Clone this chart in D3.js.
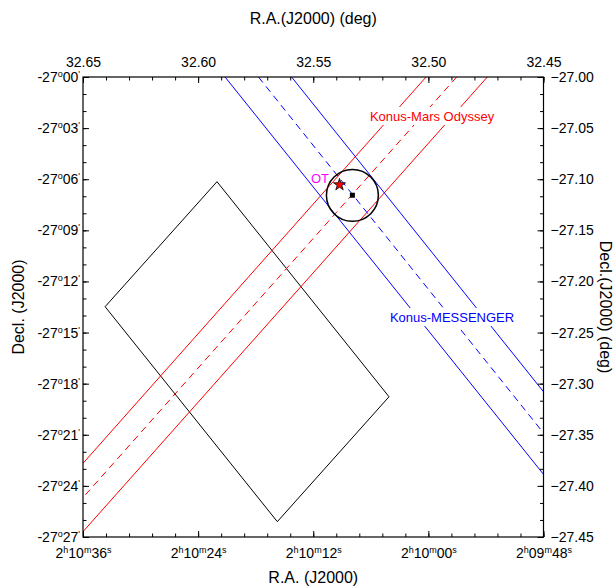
<!DOCTYPE html>
<html>
<head>
<meta charset="utf-8">
<script src="https://cdn.jsdelivr.net/npm/d3@7"></script>
<style>
  body { margin: 0; background: #fff; }
  text { font-family: "Liberation Sans", Arial, sans-serif; }
</style>
</head>
<body>
<div id="vis"></div>
<script>
// values, RA / Dec in degrees
const raTicks = [32.65, 32.60, 32.55, 32.50, 32.45];
const raHmsLabels = [["2", "10", "36"], ["2", "10", "24"], ["2", "10", "12"], ["2", "10", "00"], ["2", "09", "48"]];
const decTicks = [-27.00, -27.05, -27.10, -27.15, -27.20, -27.25, -27.30, -27.35, -27.40, -27.45];
const decMinLabels = ["00", "03", "06", "09", "12", "15", "18", "21", "24", "27"];

// Konus-Mars Odyssey annulus (edges + centre line)
const marsEdges = [
  [[32.5010, -27.0000], [32.6500, -27.3779]],
  [[32.4744, -27.0000], [32.6500, -27.4448]]
];
const marsCenter = [[32.4877, -27.0000], [32.6500, -27.4114]];

// Konus-MESSENGER annulus
const messEdges = [
  [[32.5883, -27.0000], [32.4500, -27.3887]],
  [[32.5594, -27.0000], [32.4500, -27.3079]]
];
const messCenter = [[32.5738, -27.0000], [32.4500, -27.3483]];

// field of view corners
const fieldCorners = [[32.5918, -27.1024], [32.6404, -27.2247], [32.5656, -27.4350], [32.5171, -27.3128]];

// error circle centre, radius (deg in Dec)
const circleCenter = [32.5330, -27.1158];
const circleRadius = 0.0254;
const otPos = [32.5386, -27.1054];

const labels = [
  { text: "Konus-Mars Odyssey", ra: 32.5254, dec: -27.0430, color: "#ff0000", box: true },
  { text: "Konus-MESSENGER", ra: 32.5167, dec: -27.2397, color: "#0000ff", box: true },
  { text: "OT", ra: 32.5510, dec: -27.1037, color: "#ff00ff", box: false }
];

let margin = { top: 77, left: 83, right: 70.5, bottom: 51 },
  width = 614 - margin.left - margin.right,
  height = 588 - margin.top - margin.bottom;

let svg = d3.select('#vis')
  .append('svg')
  .attr('width', 614)
  .attr('height', 588)
  .style('background-color', '#fff');

let g = svg.append('g').attr('transform', `translate(${margin.left},${margin.top})`);

let x = d3.scaleLinear().domain([32.65, 32.45]).range([0, width]);
let y = d3.scaleLinear().domain([-27.00, -27.45]).range([0, height]);

// rebuild a text node from [string, isSuperscript] parts
function setParts(node, parts) {
  let t = d3.select(node);
  t.text(null);
  let shift = 0;
  parts.forEach(([s, up]) => {
    let target = up ? -5 : 0;
    let ts = t.append('tspan').text(s);
    if (target !== shift) ts.attr('dy', target - shift);
    if (up) ts.attr('font-size', 9);
    shift = target;
  });
}

// clip
g.append('clipPath').attr('id', 'clip')
  .append('rect').attr('width', width).attr('height', height);

let plot = g.append('g').attr('clip-path', 'url(#clip)');
let line = d3.line().x(d => x(d[0])).y(d => y(d[1]));

// field of view
plot.append('path')
  .attr('d', line(fieldCorners.concat([fieldCorners[0]])))
  .attr('fill', 'none')
  .attr('stroke', '#000')
  .attr('stroke-width', 1);

// annuli
plot.selectAll('.mars').data(marsEdges).join('path')
  .attr('d', line).attr('fill', 'none').attr('stroke', '#ff0000').attr('stroke-width', 1);
plot.append('path').attr('d', line(marsCenter))
  .attr('fill', 'none').attr('stroke', '#ff0000').attr('stroke-width', 1).attr('stroke-dasharray', '7,5');

plot.selectAll('.mess').data(messEdges).join('path')
  .attr('d', line).attr('fill', 'none').attr('stroke', '#0000ff').attr('stroke-width', 1);
plot.append('path').attr('d', line(messCenter))
  .attr('fill', 'none').attr('stroke', '#0000ff').attr('stroke-width', 1).attr('stroke-dasharray', '7,5');

// error circle
let rPx = y(circleCenter[1] - circleRadius) - y(circleCenter[1]);
plot.append('circle')
  .attr('cx', x(circleCenter[0]))
  .attr('cy', y(circleCenter[1]))
  .attr('r', rPx)
  .attr('fill', 'none')
  .attr('stroke', '#000')
  .attr('stroke-width', 1.5);

plot.append('path')
  .attr('d', d3.symbol(d3.symbolSquare).size(25)())
  .attr('transform', `translate(${x(circleCenter[0])},${y(circleCenter[1])})`)
  .attr('fill', '#000');

plot.append('path')
  .attr('d', d3.symbol(d3.symbolStar).size(45)())
  .attr('transform', `translate(${x(otPos[0])},${y(otPos[1])})`)
  .attr('fill', '#ff0000')
  .attr('stroke', '#000')
  .attr('stroke-width', 0.8);

// labels with white backing
labels.forEach(l => {
  let lg = g.append('g');
  let t = lg.append('text')
    .attr('x', x(l.ra))
    .attr('y', y(l.dec))
    .attr('font-size', 13)
    .attr('fill', l.color)
    .text(l.text);
  if (l.box) {
    let b = t.node().getBBox();
    lg.insert('rect', 'text')
      .attr('x', b.x - 2).attr('y', b.y - 2)
      .attr('width', b.width + 4).attr('height', b.height + 3)
      .attr('fill', '#fff');
  }
});

// axes
function styleAxis(a) {
  a.attr('font-size', 14).attr('font-family', '"Liberation Sans", Arial, sans-serif');
  a.select('.domain').remove();
}

let raMinor = x.ticks(20);
let decMinor = d3.range(0, 28).map(i => -27 - i / 60);

g.append('g').call(d3.axisTop(x).tickValues(raMinor).tickSizeInner(-3.5).tickSizeOuter(0).tickFormat(''))
  .call(styleAxis);
g.append('g').attr('transform', `translate(0,${height})`)
  .call(d3.axisBottom(x).tickValues(raMinor).tickSizeInner(-3.5).tickSizeOuter(0).tickFormat(''))
  .call(styleAxis);
g.append('g').call(d3.axisLeft(y).tickValues(decMinor).tickSizeInner(-3.5).tickSizeOuter(0).tickFormat(''))
  .call(styleAxis);
g.append('g').attr('transform', `translate(${width},0)`)
  .call(d3.axisRight(y).tickValues(decMinor).tickSizeInner(-3.5).tickSizeOuter(0).tickFormat(''))
  .call(styleAxis);

g.append('g')
  .call(d3.axisTop(x).tickValues(raTicks).tickSizeInner(-6).tickSizeOuter(0).tickPadding(10).tickFormat(d3.format('.2f')))
  .call(styleAxis);

g.append('g').attr('transform', `translate(0,${height})`)
  .call(d3.axisBottom(x).tickValues(raTicks).tickSizeInner(-6).tickSizeOuter(0).tickPadding(11))
  .call(styleAxis)
  .selectAll('text')
  .each(function (d, i) {
    let p = raHmsLabels[i];
    setParts(this, [[p[0], false], ["h", true], [p[1], false], ["m", true], [p[2], false], ["s", true]]);
  });

g.append('g')
  .call(d3.axisLeft(y).tickValues(decTicks).tickSizeInner(-6).tickSizeOuter(0).tickPadding(3))
  .call(styleAxis)
  .selectAll('text')
  .each(function (d, i) {
    setParts(this, [["-27", false], ["o", true], [decMinLabels[i], false], ["'", true]]);
  });

g.append('g').attr('transform', `translate(${width},0)`)
  .call(d3.axisRight(y).tickValues(decTicks).tickSizeInner(-6).tickSizeOuter(0).tickPadding(7).tickFormat(d3.format('.2f')))
  .call(styleAxis);

// frame
g.append('rect')
  .attr('width', width)
  .attr('height', height)
  .attr('fill', 'none')
  .attr('stroke', '#000')
  .attr('stroke-width', 1.2);

// titles
svg.append('text')
  .attr('x', margin.left + width / 2).attr('y', 24)
  .attr('text-anchor', 'middle').attr('font-size', 16)
  .text('R.A.(J2000) (deg)');

svg.append('text')
  .attr('x', margin.left + width / 2).attr('y', 583)
  .attr('text-anchor', 'middle').attr('font-size', 16)
  .text('R.A. (J2000)');

svg.append('text')
  .attr('transform', `translate(24,${margin.top + height / 2}) rotate(-90)`)
  .attr('text-anchor', 'middle').attr('font-size', 16)
  .text('Decl. (J2000)');

svg.append('text')
  .attr('transform', `translate(600,${margin.top + height / 2}) rotate(90)`)
  .attr('text-anchor', 'middle').attr('font-size', 16)
  .text('Decl.(J2000) (deg)');
</script>
</body>
</html>
